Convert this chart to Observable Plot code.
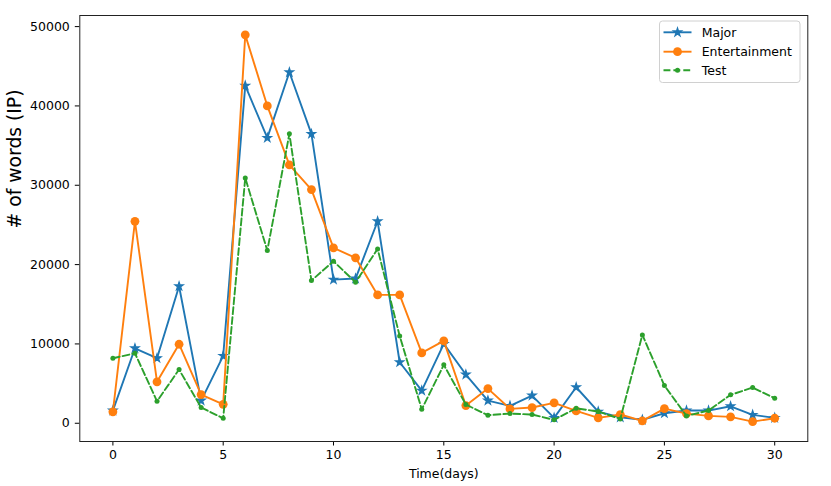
<!DOCTYPE html>
<html><head><meta charset="utf-8">
<script src="https://cdn.jsdelivr.net/npm/d3@7"></script>
<script src="https://cdn.jsdelivr.net/npm/@observablehq/plot@0.6"></script>
<style>
body{margin:0;background:#fff;}
#chart{position:relative;width:831px;height:486px;font-family:"DejaVu Sans",sans-serif;}
#legend{position:absolute;left:0;top:0;pointer-events:none;}
</style></head><body><div id="chart"></div>
<script>
const days = [0,1,2,3,4,5,6,7,8,9,10,11,12,13,14,15,16,17,18,19,20,21,22,23,24,25,26,27,28,29,30];
const major = [1600,9450,8200,17270,2860,8500,42560,35970,44240,36470,18110,18240,25460,7690,4120,10000,6140,2860,2190,3490,680,4540,1470,750,430,1260,1600,1600,2140,1060,680];
const entertainment = [1440,25460,5220,9960,3620,2390,48960,40000,32570,29460,22100,20850,16180,16180,8870,10380,2230,4370,1810,1980,2570,1560,680,1100,300,1850,1220,930,810,210,630];
const test = [8190,8820,2770,6770,1980,630,30930,21770,36480,17990,20420,17770,21980,11010,1760,7360,2360,1010,1220,1100,430,1890,1470,550,11140,4750,930,1600,3580,4500,3150];
const seriesNames = ["Major","Entertainment","Test"];
const colors = ["#1f77b4","#ff7f0e","#2ca02c"];
const xTicks = [0,5,10,15,20,25,30];
const yTicks = [0,10000,20000,30000,40000,50000];
const xLabel = "Time(days)";
const yLabel = "# of words (IP)";

const toRows = (vals) => vals.map((v,i)=>({day: days[i], value: v}));
const majorRows = toRows(major), entRows = toRows(entertainment), testRows = toRows(test);

const lw = 1.9;
const chart = Plot.plot({
  width: 831, height: 486,
  marginLeft: 79.3, marginRight: 23.7, marginTop: 15, marginBottom: 45,
  style: {fontFamily: "DejaVu Sans, sans-serif", fontSize: "12.5px", color: "#000", background: "#fff"},
  x: {domain: [-1.5, 31.5]},
  y: {domain: [-2300, 51400]},
  marks: [
    Plot.axisX({ticks: xTicks, tickSize: 4.5, tickPadding: 4.5, fontSize: 12.5, tickFormat: d => String(d), label: null, stroke: "#000"}),
    Plot.axisY({ticks: yTicks, tickSize: 4.5, tickPadding: 5.5, fontSize: 12.5, tickFormat: d => String(d), label: null, stroke: "#000"}),
    Plot.line(majorRows, {x: "day", y: "value", stroke: colors[0], strokeWidth: lw, strokeLinejoin: "round"}),
    Plot.dot(majorRows, {x: "day", y: "value", symbol: "star", r: 2.6, fill: colors[0], stroke: colors[0], strokeWidth: 1.2}),
    Plot.line(entRows, {x: "day", y: "value", stroke: colors[1], strokeWidth: lw, strokeLinejoin: "round"}),
    Plot.dot(entRows, {x: "day", y: "value", r: 4.4, fill: colors[1], stroke: "none"}),
    Plot.line(testRows, {x: "day", y: "value", stroke: colors[2], strokeWidth: lw, strokeDasharray: "6.9,3", strokeLinejoin: "round"}),
    Plot.dot(testRows, {x: "day", y: "value", r: 2.5, fill: colors[2], stroke: "none"}),
    Plot.frame({stroke: "#222", strokeWidth: 1}),
    Plot.text([xLabel], {text: d => d, frameAnchor: "bottom", dy: 32.3, lineAnchor: "middle", fontSize: 12.5, fill: "#000"}),
    Plot.text([yLabel], {text: d => d, frameAnchor: "left", rotate: -90, dx: -65.1, lineAnchor: "middle", fontSize: 18.75, fill: "#000"})
  ]
});
const host = document.getElementById("chart");
host.appendChild(chart);

// Legend overlay (matplotlib style, upper right)
const leg = d3.select(host).append("svg").attr("id","legend").attr("width",831).attr("height",486);
leg.append("rect").attr("x",659.5).attr("y",21).attr("width",140.5).attr("height",61.5)
  .attr("rx",3).attr("fill","rgba(255,255,255,0.8)").attr("stroke","#d0d0d0").attr("stroke-width",1);
const rowsY = [32.3, 51.7, 70.3];
seriesNames.forEach((name,i)=>{
  const g = leg.append("g");
  const y = rowsY[i];
  const line = g.append("line").attr("x1",663.5).attr("x2",691.5).attr("y1",y).attr("y2",y)
    .attr("stroke",colors[i]).attr("stroke-width",lw);
  if (i===2) line.attr("stroke-dasharray","6.9,3").attr("x1",663.5);
  const cx = 677.5;
  if (i===0) {
    g.append("path").attr("d", d3.symbol(d3.symbolStar, 2.6*2.6*Math.PI)())
      .attr("transform",`translate(${cx},${y})`).attr("fill",colors[0]).attr("stroke",colors[0]).attr("stroke-width",1.2);
  } else if (i===1) {
    g.append("circle").attr("cx",cx).attr("cy",y).attr("r",4.4).attr("fill",colors[1]);
  } else {
    g.append("circle").attr("cx",cx).attr("cy",y).attr("r",2.5).attr("fill",colors[2]);
  }
  g.append("text").attr("x",701.7).attr("y",y).attr("dy","0.36em")
    .attr("font-family","DejaVu Sans, sans-serif").attr("font-size",12.5).attr("fill","#000").text(name);
});
</script></body></html>
